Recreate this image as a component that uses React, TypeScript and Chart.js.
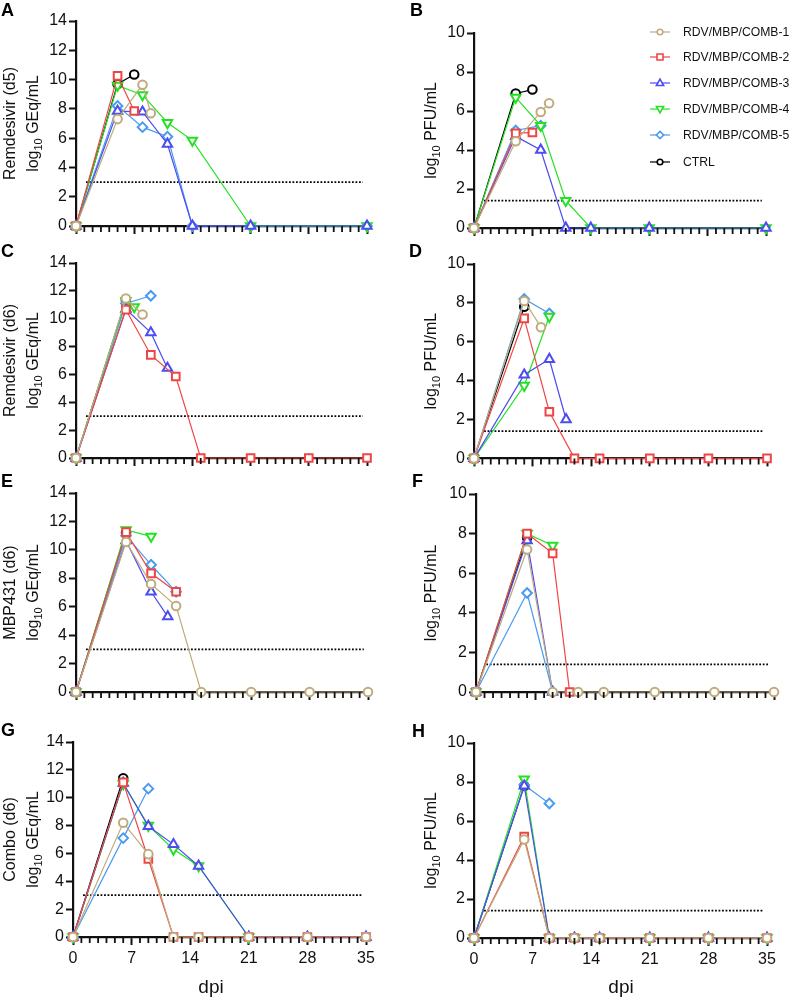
import React, { useEffect, useRef } from 'react';
import { Chart, registerables } from 'chart.js';

Chart.register(...registerables);

type Pt = [number, number];

// ---------- Series meta ----------
const SERIES_NAMES = ['RDV/MBP/COMB-1', 'RDV/MBP/COMB-2', 'RDV/MBP/COMB-3', 'RDV/MBP/COMB-4', 'RDV/MBP/COMB-5', 'CTRL'];
const SERIES_COLORS = ['#BFAB7C', '#F04545', '#4C4CF0', '#22E222', '#4A9BF0', '#000000'];
const SERIES_SHAPES = ['circle', 'rect', 'triangle', 'triangleDown', 'rectRot', 'circle'];

// ---------- Axis ticks / limits ----------
const X_TICK_LABELS = [0, 7, 14, 21, 28, 35];
const X_MAX = 35;
const GEQ_MAX = 14;
const PFU_MAX = 10;
const Y_STEP = 2;
const GEQ_LOD = 3;
const PFU_LOD = 1.4;
const LOD_SPAN: number[] = [1.2, 34.5];

// ---------- Panel A : Remdesivir (d5), GEq ----------
const A_C1: Pt[] = [[0, 0], [5, 7.3], [8, 9.65], [9, 7.7]];
const A_C2: Pt[] = [[0, 0], [5, 10.25], [7, 7.85]];
const A_C3: Pt[] = [[0, 0], [5, 7.85], [8, 7.8], [11, 5.6], [14, 0], [21, 0], [35, 0]];
const A_C4: Pt[] = [[0, 0], [5, 9.6], [8, 8.95], [11, 7.05], [14, 5.85], [21, 0], [35, 0]];
const A_C5: Pt[] = [[0, 0], [5, 8.2], [8, 6.75], [11, 6.1], [14, 0], [21, 0], [35, 0]];
const A_CTRL: Pt[] = [[0, 0], [5, 9.7], [7, 10.35]];

// ---------- Panel B : Remdesivir (d5), PFU ----------
const B_C1: Pt[] = [[0, 0], [5, 4.45], [8, 5.95], [9, 6.4]];
const B_C2: Pt[] = [[0, 0], [5, 4.85], [7, 4.9]];
const B_C3: Pt[] = [[0, 0], [5, 4.7], [8, 4.0], [11, 0], [14, 0], [21, 0], [35, 0]];
const B_C4: Pt[] = [[0, 0], [5, 6.7], [8, 5.25], [11, 1.4], [14, 0], [21, 0], [35, 0]];
const B_C5: Pt[] = [[0, 0], [5, 5.0], [8, 5.25]];
const B_CTRL: Pt[] = [[0, 0], [5, 6.9], [7, 7.1]];

// ---------- Panel C : Remdesivir (d6), GEq ----------
const C_C1: Pt[] = [[0, 0], [6, 11.45], [8, 10.3]];
const C_C2: Pt[] = [[0, 0], [6, 10.65], [9, 7.4], [12, 5.85], [15, 0], [21, 0], [28, 0], [35, 0]];
const C_C3: Pt[] = [[0, 0], [6, 10.7], [9, 9.0], [11, 6.45]];
const C_C4: Pt[] = [[0, 0], [6, 11.3], [7, 10.85]];
const C_C5: Pt[] = [[0, 0], [6, 11.1], [9, 11.65]];
const C_CTRL: Pt[] = [[0, 0], [6, 11.35]];

// ---------- Panel D : Remdesivir (d6), PFU ----------
const D_C1: Pt[] = [[0, 0], [6, 8.1], [8, 6.75]];
const D_C2: Pt[] = [[0, 0], [6, 7.2], [9, 2.4], [12, 0], [15, 0], [21, 0], [28, 0], [35, 0]];
const D_C3: Pt[] = [[0, 0], [6, 4.3], [9, 5.1], [11, 2.0]];
const D_C4: Pt[] = [[0, 0], [6, 3.75], [9, 7.3]];
const D_C5: Pt[] = [[0, 0], [6, 8.2], [9, 7.45]];
const D_CTRL: Pt[] = [[0, 0], [6, 7.8]];

// ---------- Panel E : MBP431 (d6), GEq ----------
const E_C1: Pt[] = [[0, 0], [6, 10.55], [9, 7.6], [12, 6.05], [15, 0], [21, 0], [28, 0], [35, 0]];
const E_C2: Pt[] = [[0, 0], [6, 11.25], [9, 8.35], [12, 7.05]];
const E_C3: Pt[] = [[0, 0], [6, 10.65], [9, 7.05], [11, 5.3]];
const E_C4: Pt[] = [[0, 0], [6, 11.4], [9, 10.95]];
const E_C5: Pt[] = [[0, 0], [6, 11.0], [9, 8.95], [12, 7.05]];
const E_CTRL: Pt[] = [[0, 0], [6, 11.2]];

// ---------- Panel F : MBP431 (d6), PFU ----------
const F_C1: Pt[] = [[0, 0], [6, 7.2], [9, 0], [12, 0], [15, 0], [21, 0], [28, 0], [35, 0]];
const F_C2: Pt[] = [[0, 0], [6, 8.0], [9, 7.0], [11, 0]];
const F_C3: Pt[] = [[0, 0], [6, 7.65], [9, 0]];
const F_C4: Pt[] = [[0, 0], [6, 8.0], [9, 7.4]];
const F_C5: Pt[] = [[0, 0], [6, 5.0], [9, 0]];
const F_CTRL: Pt[] = [[0, 0], [6, 7.8]];

// ---------- Panel G : Combo (d6), GEq ----------
const G_C1: Pt[] = [[0, 0], [6, 8.2], [9, 5.95], [12, 0], [15, 0], [21, 0], [28, 0], [35, 0]];
const G_C2: Pt[] = [[0, 0], [6, 11.1], [9, 5.6], [12, 0], [15, 0], [21, 0], [28, 0], [35, 0]];
const G_C3: Pt[] = [[0, 0], [6, 11.05], [9, 7.95], [12, 6.65], [15, 5.1], [21, 0], [28, 0], [35, 0]];
const G_C4: Pt[] = [[0, 0], [6, 11.0], [9, 8.0], [12, 6.3], [15, 5.1], [21, 0]];
const G_C5: Pt[] = [[0, 0], [6, 7.1], [9, 10.65]];
const G_CTRL: Pt[] = [[0, 0], [6, 11.4]];

// ---------- Panel H : Combo (d6), PFU ----------
const H_C1: Pt[] = [[0, 0], [6, 5.05], [9, 0], [12, 0], [15, 0], [21, 0], [28, 0], [35, 0]];
const H_C2: Pt[] = [[0, 0], [6, 5.2], [9, 0], [12, 0], [15, 0], [21, 0], [28, 0], [35, 0]];
const H_C3: Pt[] = [[0, 0], [6, 7.8], [9, 0], [12, 0], [15, 0], [21, 0], [28, 0], [35, 0]];
const H_C4: Pt[] = [[0, 0], [6, 8.15], [9, 0], [12, 0], [15, 0], [21, 0], [28, 0], [35, 0]];
const H_C5: Pt[] = [[0, 0], [6, 7.85], [9, 6.9]];
const H_CTRL: Pt[] = [[0, 0], [6, 7.8]];

// ---------- Titles ----------
type Part = [string, boolean];
const LOG_GEQ: Part[] = [['log', false], ['10', true], [' GEq/mL', false]];
const LOG_PFU: Part[] = [['log', false], ['10', true], [' PFU/mL', false]];

const FONT = '"Liberation Sans", Arial, Helvetica, sans-serif';
Chart.defaults.font.family = FONT;

const Y_W = 30;
const X_H = 10;
const X_H_LABELED = 40;

interface PanelDef {
  letter: string;
  letterPos: number[];
  series: Pt[][];
  yMax: number;
  lod: number;
  titles: { parts: Part[]; x: number }[];
  box: number[];
  area: number[];
  xLabels: boolean;
  dpiX?: number;
  legend?: boolean;
}

const leftTitles = (name: string) => [
  { parts: [[name, false]] as Part[], x: 14.5 },
  { parts: LOG_GEQ, x: 38 },
];
const rightTitles = [{ parts: LOG_PFU, x: 436 }];

const PANELS: PanelDef[] = [
  { letter: 'A', letterPos: [1, 16], series: [A_C1, A_C2, A_C3, A_C4, A_C5, A_CTRL], yMax: GEQ_MAX, lod: GEQ_LOD, titles: leftTitles('Remdesivir (d5)'), box: [0, 0, 396, 240], area: [76, 21, 367, 226], xLabels: false },
  { letter: 'B', letterPos: [410, 16], series: [B_C1, B_C2, B_C3, B_C4, B_C5, B_CTRL], yMax: PFU_MAX, lod: PFU_LOD, titles: rightTitles, box: [396, 0, 397, 240], area: [474, 33, 766, 228], xLabels: false, legend: true },
  { letter: 'C', letterPos: [1, 257], series: [C_C1, C_C2, C_C3, C_C4, C_C5, C_CTRL], yMax: GEQ_MAX, lod: GEQ_LOD, titles: leftTitles('Remdesivir (d6)'), box: [0, 240, 396, 230], area: [76, 263, 367, 458], xLabels: false },
  { letter: 'D', letterPos: [409, 257], series: [D_C1, D_C2, D_C3, D_C4, D_C5, D_CTRL], yMax: PFU_MAX, lod: PFU_LOD, titles: rightTitles, box: [396, 240, 397, 230], area: [474, 264, 767, 459], xLabels: false },
  { letter: 'E', letterPos: [1, 487], series: [E_C1, E_C2, E_C3, E_C4, E_C5, E_CTRL], yMax: GEQ_MAX, lod: GEQ_LOD, titles: leftTitles('MBP431 (d6)'), box: [0, 470, 396, 235], area: [76, 493, 368, 692], xLabels: false },
  { letter: 'F', letterPos: [412, 487], series: [F_C1, F_C2, F_C3, F_C4, F_C5, F_CTRL], yMax: PFU_MAX, lod: PFU_LOD, titles: rightTitles, box: [396, 470, 397, 235], area: [476, 494, 774, 692], xLabels: false },
  { letter: 'G', letterPos: [1, 736], series: [G_C1, G_C2, G_C3, G_C4, G_C5, G_CTRL], yMax: GEQ_MAX, lod: GEQ_LOD, titles: leftTitles('Combo (d6)'), box: [0, 705, 396, 292], area: [73, 742, 366, 937], xLabels: true, dpiX: 211 },
  { letter: 'H', letterPos: [412, 737], series: [H_C1, H_C2, H_C3, H_C4, H_C5, H_CTRL], yMax: PFU_MAX, lod: PFU_LOD, titles: rightTitles, box: [396, 705, 397, 292], area: [474, 743, 767, 938], xLabels: true, dpiX: 621 },
];

const LEGEND_Y = [32, 57, 83, 109, 135, 162];
const LEGEND_LINE = [650, 670];
const LEGEND_TEXT_X = 683;
const DPI_Y = 993;

function drawMarker(ctx: CanvasRenderingContext2D, shape: string, x: number, y: number, r: number) {
  ctx.beginPath();
  if (shape === 'circle') {
    ctx.arc(x, y, r, 0, Math.PI * 2);
  } else if (shape === 'rect') {
    ctx.rect(x - r, y - r, 2 * r, 2 * r);
  } else if (shape === 'triangle') {
    ctx.moveTo(x, y - r * 1.1);
    ctx.lineTo(x + r, y + r * 0.7);
    ctx.lineTo(x - r, y + r * 0.7);
    ctx.closePath();
  } else if (shape === 'triangleDown') {
    ctx.moveTo(x, y + r * 1.1);
    ctx.lineTo(x + r, y - r * 0.7);
    ctx.lineTo(x - r, y - r * 0.7);
    ctx.closePath();
  } else {
    ctx.moveTo(x, y - r);
    ctx.lineTo(x + r, y);
    ctx.lineTo(x, y + r);
    ctx.lineTo(x - r, y);
    ctx.closePath();
  }
  ctx.fill();
  ctx.stroke();
}

function drawRotatedTitle(ctx: CanvasRenderingContext2D, parts: Part[], x: number, cy: number) {
  const MAIN = `16px ${FONT}`;
  const SUB = `11px ${FONT}`;
  ctx.save();
  ctx.translate(x, cy);
  ctx.rotate(-Math.PI / 2);
  ctx.textAlign = 'left';
  ctx.textBaseline = 'alphabetic';
  ctx.fillStyle = '#111';
  const widths = parts.map(([t, sub]) => {
    ctx.font = sub ? SUB : MAIN;
    return ctx.measureText(t).width;
  });
  const total = widths.reduce((a, b) => a + b, 0);
  let cur = -total / 2;
  parts.forEach(([t, sub], i) => {
    ctx.font = sub ? SUB : MAIN;
    ctx.fillText(t, cur, sub ? 4 : 0);
    cur += widths[i];
  });
  ctx.restore();
}

function Panel({ p }: { p: PanelDef }) {
  const ref = useRef<HTMLCanvasElement | null>(null);
  const [bx, by, bw, bh] = p.box;

  useEffect(() => {
    const canvas = ref.current;
    if (!canvas) return;
    const [al, at, ar, ab] = p.area;
    const xH = p.xLabels ? X_H_LABELED : X_H;

    const datasets: any[] = p.series.map((pts, i) => {
      const shape = SERIES_SHAPES[i];
      const isDown = shape === 'triangleDown';
      const radius = shape === 'circle' ? 4.3 : shape === 'rectRot' ? 4.8 : 5.4;
      return {
        label: SERIES_NAMES[i],
        data: pts.map(([x, y]) => ({ x, y })),
        borderColor: SERIES_COLORS[i],
        backgroundColor: '#ffffff',
        borderWidth: 1.2,
        tension: 0,
        pointStyle: isDown ? 'triangle' : shape,
        pointRotation: isDown ? 180 : 0,
        pointRadius: radius,
        pointBorderWidth: 2,
        pointBorderColor: SERIES_COLORS[i],
        pointBackgroundColor: '#ffffff',
        clip: false,
      };
    });
    datasets.push({
      label: 'LOD',
      data: [{ x: LOD_SPAN[0], y: p.lod }, { x: LOD_SPAN[1], y: p.lod }],
      borderColor: '#000',
      borderWidth: 1.8,
      borderDash: [1.8, 1.7],
      pointRadius: 0,
      clip: false,
      order: 10,
    });

    const decor = {
      id: 'decor' + p.letter,
      afterDraw(chart: any) {
        const ctx: CanvasRenderingContext2D = chart.ctx;
        const xs = chart.scales.x;
        const { top, bottom } = chart.chartArea;
        ctx.save();
        // minor day ticks
        ctx.strokeStyle = '#111';
        ctx.lineWidth = 1.8;
        ctx.beginPath();
        for (let d = 1; d < X_MAX; d++) {
          if (X_TICK_LABELS.includes(d)) continue;
          const px = xs.getPixelForValue(d);
          ctx.moveTo(px, bottom);
          ctx.lineTo(px, bottom + 6);
        }
        ctx.stroke();
        // letter
        ctx.fillStyle = '#000';
        ctx.font = `bold 18px ${FONT}`;
        ctx.textAlign = 'left';
        ctx.textBaseline = 'alphabetic';
        ctx.fillText(p.letter, p.letterPos[0] - bx, p.letterPos[1] - by);
        // y titles
        const cy = (top + bottom) / 2;
        p.titles.forEach((t) => drawRotatedTitle(ctx, t.parts, t.x - bx, cy));
        // x title
        if (p.dpiX) {
          ctx.fillStyle = '#111';
          ctx.font = `19px ${FONT}`;
          ctx.textAlign = 'center';
          ctx.fillText('dpi', p.dpiX - bx, DPI_Y - by);
        }
        // legend
        if (p.legend) {
          SERIES_NAMES.forEach((name, i) => {
            const y = LEGEND_Y[i] - by;
            ctx.strokeStyle = SERIES_COLORS[i];
            ctx.lineWidth = 1.2;
            ctx.beginPath();
            ctx.moveTo(LEGEND_LINE[0] - bx, y);
            ctx.lineTo(LEGEND_LINE[1] - bx, y);
            ctx.stroke();
            ctx.fillStyle = '#fff';
            ctx.lineWidth = 1.6;
            const shape = SERIES_SHAPES[i];
            const r = shape === 'circle' ? 2.8 : shape === 'rect' ? 3 : 3.6;
            drawMarker(ctx, shape, (LEGEND_LINE[0] + LEGEND_LINE[1]) / 2 - bx, y, r);
            ctx.fillStyle = '#111';
            ctx.font = `12.2px ${FONT}`;
            ctx.textAlign = 'left';
            ctx.textBaseline = 'middle';
            ctx.fillText(name, LEGEND_TEXT_X - bx, y + 0.5);
          });
        }
        ctx.restore();
      },
    };

    const chart = new Chart(canvas, {
      type: 'line',
      data: { datasets },
      options: {
        animation: false,
        responsive: false,
        maintainAspectRatio: false,
        events: [],
        layout: {
          autoPadding: false,
          padding: {
            left: al - bx - Y_W,
            top: at - by,
            right: bx + bw - ar,
            bottom: by + bh - ab - xH,
          },
        },
        plugins: {
          legend: { display: false },
          tooltip: { enabled: false },
        },
        scales: {
          x: {
            type: 'linear',
            min: 0,
            max: X_MAX,
            afterFit: (s: any) => {
              s.height = xH;
            },
            ticks: {
              stepSize: 7,
              autoSkip: false,
              maxRotation: 0,
              padding: 4,
              display: p.xLabels,
              color: '#111',
              font: { size: 16, family: FONT },
            },
            grid: {
              drawOnChartArea: false,
              drawTicks: true,
              tickLength: 8,
              tickWidth: 2,
              tickColor: '#111',
            },
            border: { display: true, color: '#111', width: 2.2 },
          },
          y: {
            type: 'linear',
            min: 0,
            max: p.yMax,
            afterFit: (s: any) => {
              s.width = Y_W;
            },
            ticks: {
              stepSize: Y_STEP,
              padding: 2,
              color: '#111',
              font: { size: 16, family: FONT },
            },
            grid: {
              drawOnChartArea: false,
              drawTicks: true,
              tickLength: 7,
              tickWidth: 2,
              tickColor: '#111',
            },
            border: { display: true, color: '#111', width: 2.2 },
          },
        },
      } as any,
      plugins: [decor],
    });
    return () => chart.destroy();
  }, []);

  return (
    <canvas
      ref={ref}
      width={bw}
      height={bh}
      style={{ position: 'absolute', left: bx, top: by, width: bw, height: bh }}
    />
  );
}

export default function App() {
  return (
    <div style={{ position: 'absolute', left: 0, top: 0, width: 793, height: 997, background: '#fff', overflow: 'hidden' }}>
      {PANELS.map((p) => (
        <Panel key={p.letter} p={p} />
      ))}
    </div>
  );
}
